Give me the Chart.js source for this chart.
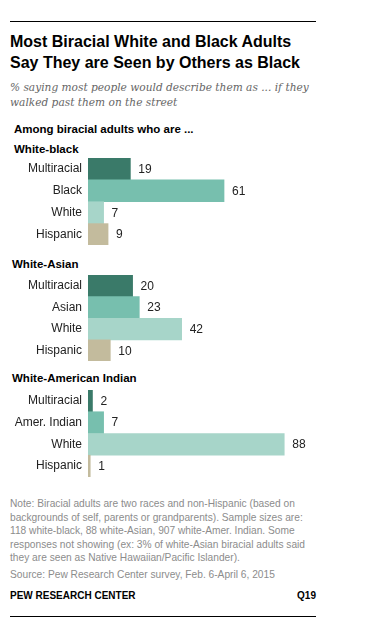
<!DOCTYPE html>
<html>
<head>
<meta charset="utf-8">
<script src="https://cdn.jsdelivr.net/npm/chart.js@4/dist/chart.umd.min.js"></script>
<style>
  html, body { margin:0; padding:0; background:#fff; }
  body { width:371px; height:627px; position:relative; overflow:hidden; font-family:"Liberation Sans", Arial, sans-serif; }
  .abs { position:absolute; white-space:nowrap; }
  .rule { position:absolute; left:10px; width:306px; height:1.5px; background:#000; }
  #title { left:10px; top:31px; font-weight:bold; font-size:16px; line-height:21px; color:#000; }
  #sub { left:10px; top:80px; font-family:"DejaVu Serif", Georgia, serif; font-style:italic; font-size:10.6px; line-height:14.5px; color:#666; }
  .hdr { font-weight:bold; font-size:11.5px; color:#000; }
  #note { left:10px; top:497px; font-size:10.2px; line-height:13.6px; color:#8c8c8c; }
  #src { left:10px; top:569px; font-size:10.2px; color:#8c8c8c; }
  #pew { left:10px; top:590px; font-size:10px; font-weight:bold; color:#000; }
  #q { right:55px; top:590px; font-size:10px; font-weight:bold; color:#000; }
  canvas { position:absolute; }
</style>
</head>
<body>
<div class="rule" style="top:20.5px"></div>
<div class="abs" id="title">Most Biracial White and Black Adults<br>Say They are Seen by Others as Black</div>
<div class="abs" id="sub">% saying most people would describe them as ... if they<br>walked past them on the street</div>
<div class="abs hdr" style="left:14px; top:123px;">Among biracial adults who are ...</div>
<div class="abs hdr" style="left:14px; top:143px;">White-black</div>
<div class="abs hdr" style="left:12px; top:258px;">White-Asian</div>
<div class="abs hdr" style="left:12px; top:372px;">White-American Indian</div>

<div id="c1" style="position:absolute; left:0; top:157.5px; width:320px; height:87.5px;"><canvas id="ch1"></canvas></div>
<div id="c2" style="position:absolute; left:0; top:274.5px; width:320px; height:86.5px;"><canvas id="ch2"></canvas></div>
<div id="c3" style="position:absolute; left:0; top:389.5px; width:320px; height:87px;"><canvas id="ch3"></canvas></div>

<div class="abs" id="note">Note: Biracial adults are two races and non-Hispanic (based on<br>backgrounds of self, parents or grandparents). Sample sizes are:<br>118 white-black, 88 white-Asian, 907 white-Amer. Indian. Some<br>responses not showing (ex: 3% of white-Asian biracial adults said<br>they are seen as Native Hawaiian/Pacific Islander).</div>
<div class="abs" id="src">Source: Pew Research Center survey, Feb. 6-April 6, 2015</div>
<div class="abs" id="pew">PEW RESEARCH CENTER</div>
<div class="abs" id="q">Q19</div>
<div class="rule" style="top:615.5px"></div>

<script>
const whiteBlackLabels = ["Multiracial", "Black", "White", "Hispanic"];
const whiteBlackValues = [19, 61, 7, 9];
const whiteAsianLabels = ["Multiracial", "Asian", "White", "Hispanic"];
const whiteAsianValues = [20, 23, 42, 10];
const whiteAmIndLabels = ["Multiracial", "Amer. Indian", "White", "Hispanic"];
const whiteAmIndValues = [2, 7, 88, 1];
const barColors = ["#3a7a69", "#77bfae", "#a7d5c9", "#c3bb9d"];

const valueLabels = {
  id: "valueLabels",
  afterDatasetsDraw(chart) {
    const ctx = chart.ctx;
    const meta = chart.getDatasetMeta(0);
    const data = chart.data.datasets[0].data;
    ctx.save();
    ctx.font = "12px 'Liberation Sans', Arial, sans-serif";
    ctx.fillStyle = "#222";
    ctx.textAlign = "left";
    ctx.textBaseline = "middle";
    meta.data.forEach((bar, i) => {
      ctx.fillText(String(data[i]), bar.x + 8, bar.y + 0.5);
    });
    ctx.restore();
  }
};

function makeChart(id, labels, values) {
  return new Chart(document.getElementById(id), {
    type: "bar",
    data: {
      labels: labels,
      datasets: [{
        data: values,
        backgroundColor: barColors,
        borderWidth: 0,
        categoryPercentage: 1.0,
        barPercentage: 1.0
      }]
    },
    options: {
      indexAxis: "y",
      responsive: true,
      maintainAspectRatio: false,
      animation: false,
      events: [],
      layout: { padding: { left: 0, right: 9, top: 0, bottom: 0 } },
      plugins: { legend: { display: false }, tooltip: { enabled: false } },
      scales: {
        x: { display: false, min: 0, max: 100 },
        y: {
          grid: { display: false, drawTicks: false },
          border: { display: false },
          afterFit(scale) {
            scale.width = 88;
            scale.paddingTop = 0;
            scale.paddingBottom = 0;
          },
          ticks: {
            color: "#222",
            padding: 6,
            font: { family: "'Liberation Sans', Arial, sans-serif", size: 12 }
          }
        }
      }
    },
    plugins: [valueLabels]
  });
}

makeChart("ch1", whiteBlackLabels, whiteBlackValues);
makeChart("ch2", whiteAsianLabels, whiteAsianValues);
makeChart("ch3", whiteAmIndLabels, whiteAmIndValues);
</script>
</body>
</html>
